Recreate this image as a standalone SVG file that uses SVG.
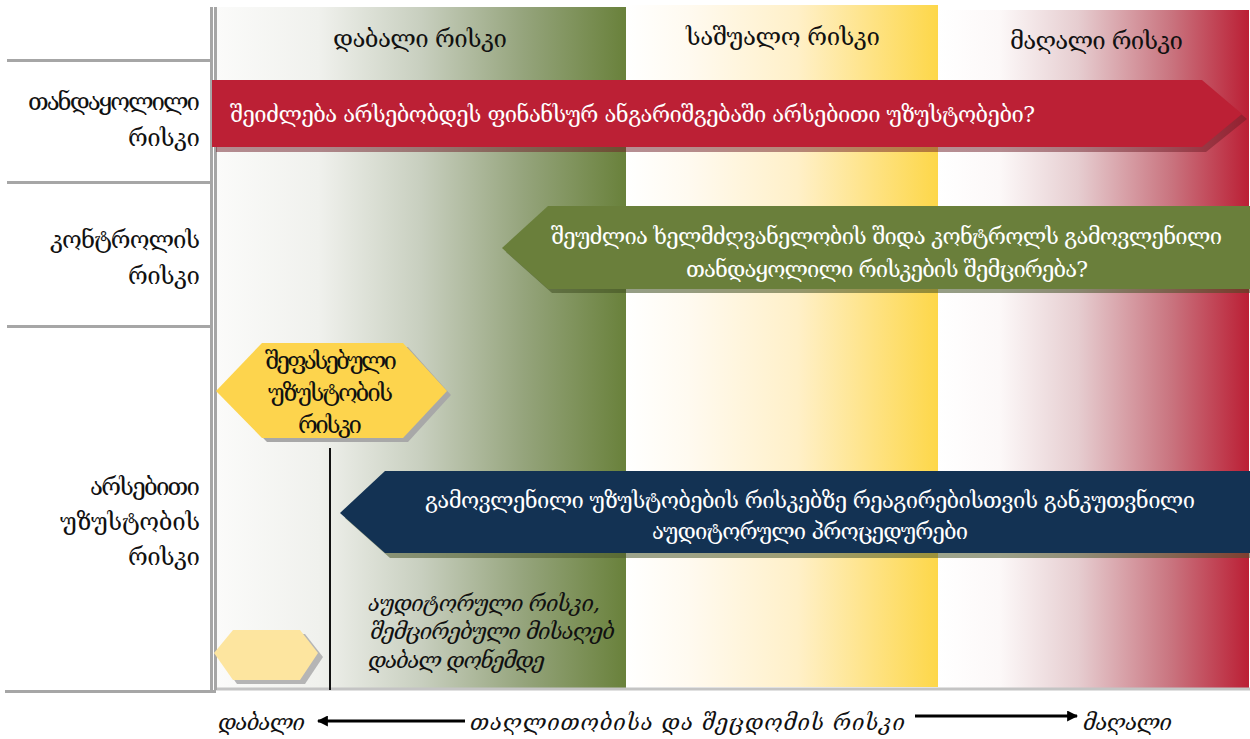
<svg xmlns="http://www.w3.org/2000/svg" width="1250" height="739" viewBox="0 0 1250 739">
  <defs>
    <linearGradient id="gLow" x1="0" y1="0" x2="1" y2="0">
      <stop offset="0" stop-color="#fbfbfa"/>
      <stop offset="0.25" stop-color="#f0f1ed"/>
      <stop offset="0.5" stop-color="#c8cfbf"/>
      <stop offset="0.75" stop-color="#95a47c"/>
      <stop offset="1" stop-color="#69813b"/>
    </linearGradient>
    <linearGradient id="gMid" x1="0" y1="0" x2="1" y2="0">
      <stop offset="0" stop-color="#ffffff"/>
      <stop offset="0.2" stop-color="#fffaf0"/>
      <stop offset="0.55" stop-color="#fff0c8"/>
      <stop offset="1" stop-color="#fdd749"/>
    </linearGradient>
    <linearGradient id="gHigh" x1="0" y1="0" x2="1" y2="0">
      <stop offset="0" stop-color="#ffffff"/>
      <stop offset="0.2" stop-color="#fcf8f8"/>
      <stop offset="0.45" stop-color="#e6cdd0"/>
      <stop offset="0.75" stop-color="#c9747f"/>
      <stop offset="1" stop-color="#bb1f35"/>
    </linearGradient>
    <style>
      text { font-family: "DejaVu Serif", "DejaVu Sans", "Noto Sans", serif; }
      .lbl { font-size: 24px; fill: #111; }
      .hdr { font-size: 24px; fill: #111; }
      .wt { font-size: 22px; fill: #ffffff; }
      .it { font-size: 22px; font-style: italic; fill: #111; }
      .grid { stroke: #a6a6a6; stroke-width: 3; fill: none; }
    </style>
    <marker id="ah" viewBox="0 0 10 10" refX="9" refY="5" markerWidth="11" markerHeight="11" markerUnits="userSpaceOnUse" orient="auto-start-reverse">
      <path d="M0,0 L10,5 L0,10 z" fill="#000"/>
    </marker>
  </defs>

  <rect width="1250" height="739" fill="#ffffff"/>

  <!-- risk level bands -->
  <g id="bands">
    <rect x="216" y="7" width="410" height="683" fill="url(#gLow)"/>
    <rect x="626" y="5" width="312" height="682" fill="url(#gMid)"/>
    <rect x="938" y="10" width="311" height="679" fill="url(#gHigh)"/>
  </g>

  <!-- table grid -->
  <g id="grid">
    <line class="grid" x1="7" y1="60.5" x2="212" y2="60.5"/>
    <line class="grid" x1="7" y1="182.5" x2="212" y2="182.5"/>
    <line class="grid" x1="7" y1="326.5" x2="212" y2="326.5"/>
    <line class="grid" x1="5" y1="691.5" x2="216" y2="691.5"/>
    <line x1="216" y1="689" x2="1250" y2="689" stroke="#c4c4c4" stroke-width="3"/>
    <line class="grid" x1="211.5" y1="7" x2="211.5" y2="692"/>
    <line class="grid" x1="215.5" y1="7" x2="215.5" y2="690"/>
  </g>

  <!-- column headers -->
  <g id="headers">
    <text class="hdr" x="333" y="47" textLength="174" lengthAdjust="spacing">დაბალი რისკი</text>
    <text class="hdr" x="686" y="45" textLength="194" lengthAdjust="spacing">საშუალო რისკი</text>
    <text class="hdr" x="1010" y="49" textLength="173" lengthAdjust="spacing">მაღალი რისკი</text>
  </g>

  <!-- row labels -->
  <g id="row-inherent">
    <text class="lbl" x="28" y="110" textLength="172" lengthAdjust="spacing">თანდაყოლილი</text>
    <text class="lbl" x="128" y="146" textLength="72" lengthAdjust="spacing">რისკი</text>
  </g>
  <g id="row-control">
    <text class="lbl" x="50" y="248" textLength="150" lengthAdjust="spacing">კონტროლის</text>
    <text class="lbl" x="128" y="284" textLength="72" lengthAdjust="spacing">რისკი</text>
  </g>
  <g id="row-material">
    <text class="lbl" x="90" y="495" textLength="110" lengthAdjust="spacing">არსებითი</text>
    <text class="lbl" x="60" y="530" textLength="140" lengthAdjust="spacing">უზუსტობის</text>
    <text class="lbl" x="128" y="565" textLength="72" lengthAdjust="spacing">რისკი</text>
  </g>

  <!-- inherent risk arrow -->
  <g id="arrow-inherent">
    <polygon points="216,85 1206,85 1247,119 1206,152 216,152" fill="#6e1e28" fill-opacity="0.5"/>
    <polygon points="212,80 1202,80 1242,114 1202,147 212,147" fill="#bc2035"/>
    <text class="wt" x="230" y="122" textLength="805" lengthAdjust="spacing">შეიძლება არსებობდეს ფინანსურ ანგარიშგებაში არსებითი უზუსტობები?</text>
  </g>

  <!-- control risk arrow -->
  <g id="arrow-control">
    <polygon points="506,252 552,210 1250,210 1250,293 552,293" fill="#3f4f22" fill-opacity="0.55"/>
    <polygon points="502,248 548,206 1250,206 1250,289 548,289" fill="#6a7f3b"/>
    <text class="wt" x="551" y="244" textLength="671" lengthAdjust="spacing">შეუძლია ხელმძღვანელობის შიდა კონტროლს გამოვლენილი</text>
    <text class="wt" x="686" y="277" textLength="402" lengthAdjust="spacing">თანდაყოლილი რისკების შემცირება?</text>
  </g>

  <!-- audit procedures arrow -->
  <g id="arrow-procedures">
    <polygon points="345,518 390,476 1250,476 1250,558 390,558" fill="#4d5a2e" fill-opacity="0.55"/>
    <polygon points="340,513 385,471 1250,471 1250,553 385,553" fill="#133253"/>
    <text class="wt" x="425" y="508" textLength="770" lengthAdjust="spacing">გამოვლენილი უზუსტობების რისკებზე რეაგირებისთვის განკუთვნილი</text>
    <text class="wt" x="652" y="539" textLength="316" lengthAdjust="spacing">აუდიტორული პროცედურები</text>
  </g>

  <!-- assessed misstatement risk -->
  <g id="node-assessed">
    <polygon points="221,395 267,347 408,347 451,395 408,442 267,442" fill="#a8a8a8"/>
    <polygon points="216,391 262,343 403,343 447,391 403,438 262,438" fill="#fdd44d"/>
    <text class="lbl" x="265" y="369" textLength="132" lengthAdjust="spacing">შეფასებული</text>
    <text class="lbl" x="268" y="401" textLength="125" lengthAdjust="spacing">უზუსტობის</text>
    <text class="lbl" x="298" y="433" textLength="64" lengthAdjust="spacing">რისკი</text>
  </g>

  <!-- acceptable audit risk -->
  <g id="node-acceptable">
    <polygon points="218,657 237,634 305,634 323,657 305,684 237,684" fill="#b5b5b5"/>
    <polygon points="214,653 233,630 300,630 318,653 300,680 233,680" fill="#fde59f"/>
  </g>

  <g id="connectors">
    <line x1="465" y1="721" x2="318" y2="721" stroke="#000" stroke-width="3" marker-end="url(#ah)"/>
    <line x1="915" y1="716" x2="1077" y2="716" stroke="#000" stroke-width="3" marker-end="url(#ah)"/>
    <line x1="330" y1="448" x2="330" y2="690" stroke="#111" stroke-width="2"/>
  </g>

  <g id="note-audit-risk">
    <text class="it" x="368" y="611" textLength="232" lengthAdjust="spacing">აუდიტორული რისკი,</text>
    <text class="it" x="370" y="639" textLength="245" lengthAdjust="spacing">შემცირებული მისაღებ</text>
    <text class="it" x="368" y="668" textLength="177" lengthAdjust="spacing">დაბალ დონემდე</text>
  </g>

  <g id="axis-labels">
    <text class="it" x="218" y="730" textLength="87" lengthAdjust="spacing">დაბალი</text>
    <text class="it" x="470" y="730" textLength="435" lengthAdjust="spacing">თაღლითობისა და შეცდომის რისკი</text>
    <text class="it" x="1083" y="730" textLength="89" lengthAdjust="spacing">მაღალი</text>
  </g>
</svg>
